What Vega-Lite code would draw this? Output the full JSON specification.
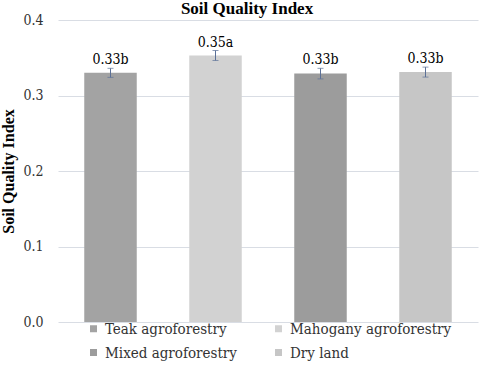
{
  "$schema": "https://vega.github.io/schema/vega-lite/v6.json",
  "width": 420,
  "height": 302,
  "autosize": {"type": "none"},
  "padding": {"left": 58, "top": 20, "right": 2, "bottom": 51},
  "background": "white",
  "title": {
    "text": "Soil Quality Index",
    "font": "Liberation Serif",
    "fontSize": 17,
    "fontWeight": "bold",
    "color": "#000000",
    "anchor": "middle",
    "frame": "group",
    "dx": -21,
    "offset": -5
  },
  "data": {
    "values": [
      {"system": "Teak agroforestry", "sqi": 0.330, "err": 0.006, "label": "0.33b"},
      {"system": "Mahogany agroforestry", "sqi": 0.353, "err": 0.0066, "label": "0.35a"},
      {"system": "Mixed agroforestry", "sqi": 0.329, "err": 0.007, "label": "0.33b"},
      {"system": "Dry land", "sqi": 0.331, "err": 0.0066, "label": "0.33b"}
    ]
  },
  "transform": [
    {"calculate": "datum.sqi - datum.err", "as": "lo"},
    {"calculate": "datum.sqi + datum.err", "as": "hi"}
  ],
  "encoding": {
    "x": {
      "field": "system",
      "type": "nominal",
      "sort": null,
      "axis": null,
      "scale": {"paddingInner": 0.5, "paddingOuter": 0.25}
    }
  },
  "layer": [
    {
      "mark": {"type": "bar"},
      "encoding": {
        "y": {
          "field": "sqi",
          "type": "quantitative",
          "scale": {"domain": [0, 0.4]},
          "axis": {
            "title": "Soil Quality Index",
            "titleFont": "Liberation Serif",
            "titleFontSize": 16,
            "titleFontWeight": "bold",
            "titleColor": "#000000",
            "titlePadding": 6,
            "values": [0, 0.1, 0.2, 0.3, 0.4],
            "format": ".1f",
            "labelFont": "DejaVu Serif Condensed",
            "labelFontSize": 14,
            "labelColor": "#333333",
            "labelPadding": 15,
            "domain": false,
            "ticks": false,
            "grid": true,
            "gridColor": "#d9dde4",
            "gridWidth": 1
          }
        },
        "fill": {
          "field": "system",
          "type": "nominal",
          "sort": null,
          "scale": {
            "domain": ["Teak agroforestry", "Mahogany agroforestry", "Mixed agroforestry", "Dry land"],
            "range": ["#a3a3a3", "#d2d2d2", "#9c9c9c", "#c6c6c6"]
          },
          "legend": {
            "title": null,
            "orient": "none",
            "legendX": 28,
            "legendY": 301,
            "direction": "horizontal",
            "columns": 2,
            "columnPadding": 34,
            "rowPadding": 8,
            "symbolType": "square",
            "symbolSize": 49,
            "symbolStrokeWidth": 0,
            "labelFont": "DejaVu Serif Condensed",
            "labelFontSize": 15,
            "labelColor": "#333333",
            "labelOffset": 4,
            "labelLimit": 300
          }
        }
      }
    },
    {
      "mark": {"type": "rule", "color": "#5b7097", "strokeWidth": 1},
      "encoding": {
        "y": {"field": "lo", "type": "quantitative"},
        "y2": {"field": "hi"}
      }
    },
    {
      "mark": {"type": "tick", "color": "#5b7097", "thickness": 1, "size": 6, "orient": "horizontal"},
      "encoding": {
        "y": {"field": "lo", "type": "quantitative"}
      }
    },
    {
      "mark": {"type": "tick", "color": "#5b7097", "thickness": 1, "size": 6, "orient": "horizontal"},
      "encoding": {
        "y": {"field": "hi", "type": "quantitative"}
      }
    },
    {
      "mark": {
        "type": "text",
        "font": "DejaVu Serif Condensed",
        "fontSize": 14,
        "color": "#000000",
        "baseline": "alphabetic",
        "dy": -4
      },
      "encoding": {
        "y": {"field": "hi", "type": "quantitative"},
        "text": {"field": "label"}
      }
    }
  ],
  "config": {"view": {"stroke": null}, "font": "Liberation Serif"}
}
